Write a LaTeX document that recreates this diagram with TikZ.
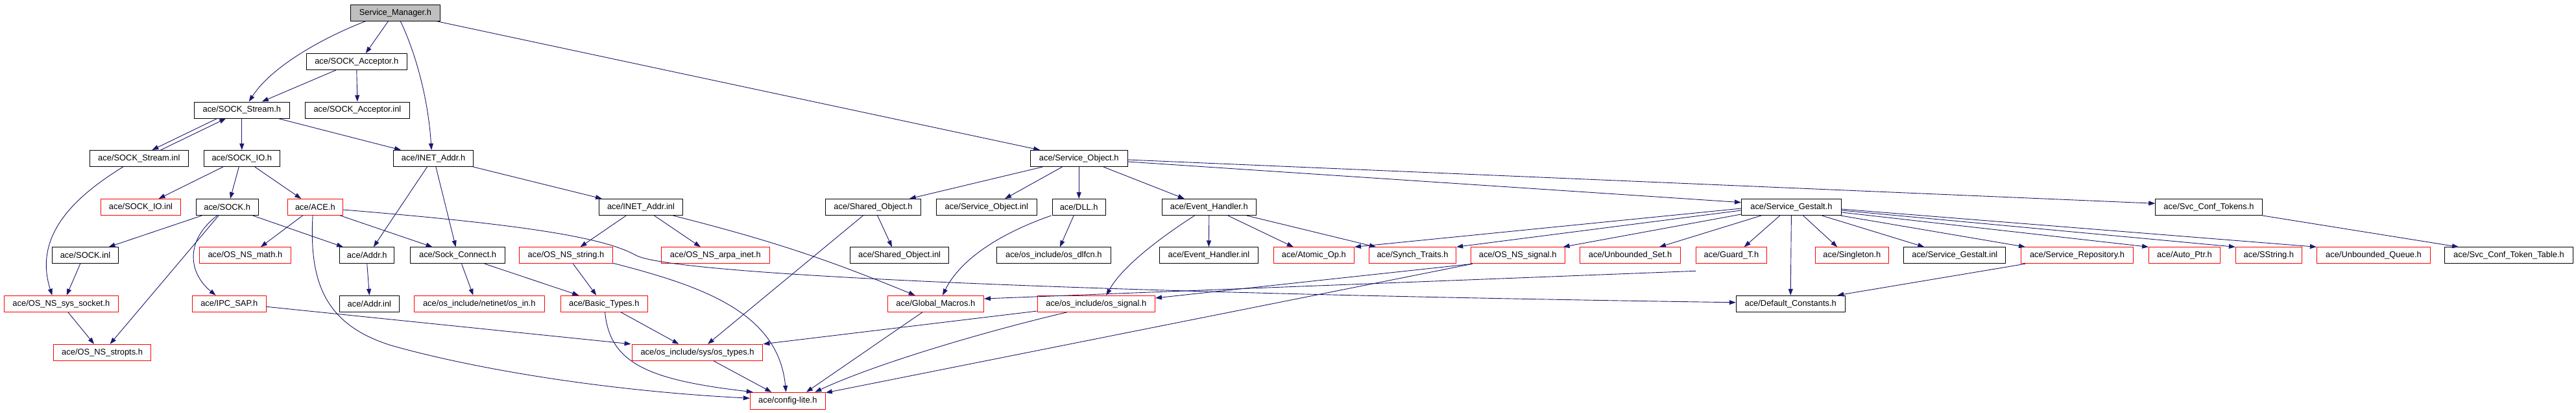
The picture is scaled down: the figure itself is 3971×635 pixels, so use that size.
\documentclass[tikz,border=0pt]{standalone}
\usepackage{fontspec}
\setmainfont{Liberation Sans}
\usetikzlibrary{arrows.meta}
\definecolor{edgeblue}{RGB}{25,25,112}
\definecolor{rootgray}{RGB}{191,191,191}
\begin{document}
\begin{tikzpicture}[x=1pt,y=-1pt,
  box/.style={draw, line width=1pt, minimum height=25pt, inner sep=0pt, font=\fontsize{12.9}{15}\selectfont, text=black, fill=white},
  nb/.style={box, draw=black},
  nr/.style={box, draw=red},
  root/.style={box, draw=black, fill=rootgray},
  dep/.style={draw=edgeblue, line width=0.9pt, -{Triangle[length=10pt,width=7pt]}}]
\useasboundingbox (0,0) rectangle (3971,635);
% row 0
\node[root, minimum width=137.5pt] (sm) at (609.4,19.8) {Service\_Manager.h};
% row 1
\node[nb, minimum width=155pt] (sacc) at (549.8,95) {ace/SOCK\_Acceptor.h};
% row 2
\node[nb, minimum width=146.4pt] (sstr) at (372.8,169.5) {ace/SOCK\_Stream.h};
\node[nb, minimum width=160.8pt] (saccinl) at (550.9,169.5) {ace/SOCK\_Acceptor.inl};
% row 3
\node[nb, minimum width=151.8pt] (sstrinl) at (214.3,244) {ace/SOCK\_Stream.inl};
\node[nb, minimum width=117pt] (sio) at (372.8,244) {ace/SOCK\_IO.h};
\node[nb, minimum width=123.6pt] (inet) at (668.1,244) {ace/INET\_Addr.h};
\node[nb, minimum width=149.6pt] (so) at (1663.2,244) {ace/Service\_Object.h};
% row 4
\node[nr, minimum width=123.2pt] (sioinl) at (217,319) {ace/SOCK\_IO.inl};
\node[nb, minimum width=96pt] (sock) at (350.2,319) {ace/SOCK.h};
\node[nr, minimum width=85.3pt] (ace) at (485.9,319) {ace/ACE.h};
\node[nb, minimum width=128.5pt] (inetinl) at (988,319) {ace/INET\_Addr.inl};
\node[nb, minimum width=147.3pt] (shobj) at (1346,319) {ace/Shared\_Object.h};
\node[nb, minimum width=154.9pt] (soinl) at (1520.8,319) {ace/Service\_Object.inl};
\node[nb, minimum width=81.7pt] (dll) at (1663.2,319) {ace/DLL.h};
\node[nb, minimum width=144.7pt] (eh) at (1863.8,319) {ace/Event\_Handler.h};
\node[nb, minimum width=154pt] (sg) at (2761.4,319) {ace/Service\_Gestalt.h};
\node[nb, minimum width=164.6pt] (sct) at (3405,319) {ace/Svc\_Conf\_Tokens.h};
% row 5
\node[nb, minimum width=102.2pt] (sockinl) at (131.5,393.3) {ace/SOCK.inl};
\node[nr, minimum width=140.6pt] (nsmath) at (377.9,393.3) {ace/OS\_NS\_math.h};
\node[nb, minimum width=84.3pt] (addr) at (565.8,393.3) {ace/Addr.h};
\node[nb, minimum width=146pt] (sconn) at (705.6,393.3) {ace/Sock\_Connect.h};
\node[nr, minimum width=144.2pt] (nsstr) at (872.5,393.3) {ace/OS\_NS\_string.h};
\node[nr, minimum width=166.6pt] (arpa) at (1102.9,393.3) {ace/OS\_NS\_arpa\_inet.h};
\node[nb, minimum width=152.6pt] (shinl) at (1386.6,393.3) {ace/Shared\_Object.inl};
\node[nb, minimum width=175.4pt] (dlfcn) at (1624.3,393.3) {ace/os\_include/os\_dlfcn.h};
\node[nb, minimum width=151.8pt] (ehinl) at (1863.4,393.3) {ace/Event\_Handler.inl};
\node[nr, minimum width=124.1pt] (atomic) at (2025.4,393.3) {ace/Atomic\_Op.h};
\node[nr, minimum width=134.3pt] (synch) at (2177.5,393.3) {ace/Synch\_Traits.h};
\node[nr, minimum width=144.6pt] (nssig) at (2339.7,393.3) {ace/OS\_NS\_signal.h};
\node[nr, minimum width=155.3pt] (uset) at (2513,393.3) {ace/Unbounded\_Set.h};
\node[nr, minimum width=108.5pt] (guard) at (2668.9,393.3) {ace/Guard\_T.h};
\node[nr, minimum width=113.4pt] (single) at (2854.9,393.3) {ace/Singleton.h};
\node[nb, minimum width=157.3pt] (sginl) at (3013.3,393.3) {ace/Service\_Gestalt.inl};
\node[nr, minimum width=173.1pt] (srep) at (3202,393.3) {ace/Service\_Repository.h};
\node[nr, minimum width=109.9pt] (aptr) at (3367.5,393.3) {ace/Auto\_Ptr.h};
\node[nr, minimum width=102.1pt] (sstring) at (3497.4,393.3) {ace/SString.h};
\node[nr, minimum width=175.2pt] (uq) at (3659,393.3) {ace/Unbounded\_Queue.h};
\node[nb, minimum width=197.7pt] (sctt) at (3867.5,393.3) {ace/Svc\_Conf\_Token\_Table.h};
% row 6
\node[nr, minimum width=176.3pt] (nssock) at (94.4,467.8) {ace/OS\_NS\_sys\_socket.h};
\node[nr, minimum width=113.9pt] (ipc) at (353.3,467.8) {ace/IPC\_SAP.h};
\node[nb, minimum width=91.5pt] (addrinl) at (569.4,467.8) {ace/Addr.inl};
\node[nr, minimum width=200.9pt] (osin) at (738.8,467.8) {ace/os\_include/netinet/os\_in.h};
\node[nr, minimum width=133.9pt] (btypes) at (931.3,467.8) {ace/Basic\_Types.h};
\node[nr, minimum width=148.2pt] (gm) at (1442.4,467.8) {ace/Global\_Macros.h};
\node[nr, minimum width=181.3pt] (ossig) at (1689.8,467.8) {ace/os\_include/os\_signal.h};
\node[nb, minimum width=167.9pt] (dc) at (2760.2,467.8) {ace/Default\_Constants.h};
% row 7
\node[nr, minimum width=150pt] (stropts) at (157.6,542.8) {ace/OS\_NS\_stropts.h};
\node[nr, minimum width=201.8pt] (ostypes) at (1075,542.8) {ace/os\_include/sys/os\_types.h};
% row 8
\node[nr, minimum width=116pt, minimum height=26pt] (cfg) at (1214.3,617.3) {ace/config-lite.h};

% edges from Service_Manager.h
\draw[dep] ([xshift=-46pt]sm.south) .. controls (505,55) and (420,100) .. ([xshift=11pt]sstr.north);
\draw[dep] ([xshift=-11pt]sm.south) -- ([xshift=14pt]sacc.north);
\draw[dep] ([xshift=8pt]sm.south) .. controls (640,80) and (660,150) .. ([xshift=-3pt]inet.north);
\draw[dep] ([xshift=64pt]sm.south) -- ([xshift=-60pt]so.north);
% SOCK_Acceptor.h
\draw[dep] ([xshift=-32pt]sacc.south) -- ([xshift=31pt]sstr.north);
\draw[dep] (sacc.south) -- (saccinl.north);
% SOCK_Stream.h
\draw[dep] ([xshift=-38pt]sstr.south) -- ([xshift=20pt]sstrinl.north);
\draw[dep] ([xshift=33.5pt]sstrinl.north) -- ([xshift=-24.6pt]sstr.south);
\draw[dep] (sstr.south) -- (sio.north);
\draw[dep] ([xshift=56pt]sstr.south) -- ([xshift=-50pt]inet.north);
\draw[dep] ([xshift=-24.6pt]sstrinl.south) .. controls (120,300) and (50,360) .. ([xshift=-14pt]nssock.north);
% SOCK_IO.h
\draw[dep] ([xshift=-29pt]sio.south) -- ([xshift=27.6pt]sioinl.north);
\draw[dep] ([xshift=-4.5pt]sio.south) -- ([xshift=4.7pt]sock.north);
\draw[dep] ([xshift=20pt]sio.south) -- ([xshift=-21.6pt]ace.north);
% SOCK.h
\draw[dep] ([xshift=-39pt]sock.south) -- ([xshift=36pt]sockinl.north);
\draw[dep] ([xshift=39.5pt]sock.south) -- ([xshift=-36.8pt]addr.north);
\draw[dep] ([xshift=-15.4pt]sock.south) .. controls (285,370) and (290,420) .. ([xshift=-20.7pt]ipc.north);
\draw[dep] ([xshift=-13.2pt]sock.south) -- ([xshift=12pt]stropts.north);
\draw[dep] ([xshift=-7.8pt]sockinl.south) -- ([xshift=8.3pt]nssock.north);
\draw[dep] ([xshift=10.5pt]nssock.south) -- ([xshift=-12.5pt]stropts.north);
% ACE.h
\draw[dep] ([xshift=-19.4pt]ace.south) -- ([xshift=24pt]nsmath.north);
\draw[dep] ([xshift=38.7pt]ace.south) -- ([xshift=-39pt]sconn.north);
\draw[dep] ([xshift=-3.8pt]ace.south) .. controls (476,440) and (505,500) .. (600,531) .. controls (700,560) and (900,600) .. ([yshift=4pt]cfg.west);
\draw[dep] ([yshift=-4pt]ace.east) .. controls (800,345) and (930,365) .. (980,393) .. controls (1030,421) and (1600,450) .. ([yshift=2pt]dc.west);
% INET_Addr.h
\draw[dep] ([xshift=-9.6pt]inet.south) -- ([xshift=10pt]addr.north);
\draw[dep] ([xshift=3.8pt]inet.south) -- ([xshift=-3pt]sconn.north);
\draw[dep] ([xshift=61.4pt]inet.south) -- ([xshift=-60pt]inetinl.north);
\draw[dep] (addr.south) -- (addrinl.north);
\draw[dep] ([xshift=6pt]sconn.south) -- ([xshift=-9.3pt]osin.north);
\draw[dep] ([xshift=41.7pt]sconn.south) -- ([xshift=-39pt]btypes.north);
% INET_Addr.inl
\draw[dep] ([xshift=-22.8pt]inetinl.south) -- ([xshift=22pt]nsstr.north);
\draw[dep] ([xshift=20.5pt]inetinl.south) -- ([xshift=-23pt]arpa.north);
\draw[dep] ([xshift=49.5pt]inetinl.south) to[bend left=4] ([xshift=-31.7pt]gm.north);
% OS_NS_string.h, Basic_Types.h, os_types.h
\draw[dep] ([xshift=11pt]nsstr.south) -- ([xshift=-12pt]btypes.north);
\draw[dep] ([yshift=1pt]nsstr.south east) .. controls (1080,440) and (1200,480) .. ([xshift=-2.7pt]cfg.north);
\draw[dep] ([xshift=25.8pt]btypes.south) -- ([xshift=-28.6pt]ostypes.north);
\draw[dep] ([xshift=1.3pt]btypes.south) .. controls (940,560) and (1000,585) .. ([xshift=5pt]cfg.north west);
\draw[dep] ([xshift=25pt]ostypes.south) -- ([xshift=-25pt]cfg.north);
\draw[dep] ([yshift=-4.5pt]ipc.east) -- ([xshift=-1pt]ostypes.north west);
% Service_Object.h
\draw[dep] ([xshift=-56pt]so.south) -- ([xshift=55.8pt]shobj.north);
\draw[dep] ([xshift=-25.7pt]so.south) -- ([xshift=28.3pt]soinl.north);
\draw[dep] (so.south) -- (dll.north);
\draw[dep] ([xshift=37.7pt]so.south) -- ([xshift=-38pt]eh.north);
\draw[dep] ([yshift=-5pt]so.east) -- ([yshift=7.3pt]sg.west);
\draw[dep] ([yshift=-2pt]so.east) -- ([yshift=5.7pt]sct.west);
% Shared_Object.h
\draw[dep] ([xshift=6.7pt]shobj.south) -- ([xshift=-11.6pt]shinl.north);
\draw[dep] ([xshift=-15.6pt]shobj.south) -- ([xshift=16pt]ostypes.north);
% DLL.h
\draw[dep] ([xshift=-42.7pt]dll.south) .. controls (1540,360) and (1480,400) .. ([xshift=10.6pt]gm.north);
\draw[dep] ([xshift=-8pt]dll.south) -- ([xshift=9.6pt]dlfcn.north);
% Event_Handler.h
\draw[dep] ([xshift=-22.3pt]eh.south) .. controls (1790,365) and (1730,410) .. ([xshift=15.6pt]ossig.north);
\draw[dep] (eh.south) -- (ehinl.north);
\draw[dep] ([xshift=29pt]eh.south) -- ([xshift=-31.6pt]atomic.north);
\draw[dep] ([xshift=58pt]eh.south) -- ([xshift=-56.5pt]synch.north);
% Service_Gestalt.h
\draw[dep] ([yshift=-2pt]sg.west) -- (atomic.north east);
\draw[dep] ([yshift=-5pt]sg.west) -- (synch.north east);
\draw[dep] ([yshift=-11pt]sg.west) -- ([xshift=-3pt]nssig.north east);
\draw[dep] ([xshift=-46.4pt]sg.south) -- ([xshift=45pt]uset.north);
\draw[dep] ([xshift=-17.7pt]sg.south) -- ([xshift=19.8pt]guard.north);
\draw[dep] (sg.south) -- (dc.north);
\draw[dep] ([xshift=18.2pt]sg.south) -- ([xshift=-22.7pt]single.north);
\draw[dep] ([xshift=47pt]sg.south) -- ([xshift=-47pt]sginl.north);
\draw[dep] ([xshift=-1.5pt]sg.south east) -- ([xshift=-80pt]srep.north);
\draw[dep] ([yshift=-8pt]sg.east) -- (aptr.north west);
\draw[dep] ([yshift=-5pt]sg.east) -- (sstring.north west);
\draw[dep] ([yshift=-3pt]sg.east) -- (uq.north west);
\draw[dep] ([xshift=-80pt]srep.south) -- ([xshift=72pt]dc.north);
\draw[dep] (sct.south east) -- ([xshift=-77.5pt]sctt.north);
% signals, macros
\draw[dep] ([xshift=3pt]nssig.south west) -- ([yshift=-1pt]cfg.north east);
\draw[dep] ([xshift=3pt]nssig.south west) -- ([yshift=8.8pt]ossig.east);
\draw[dep] ([yshift=-11pt]guard.south west) -- ([yshift=7.8pt]gm.east);
\draw[dep] ([xshift=-20.5pt]gm.south) -- ([xshift=28.6pt]cfg.north);
\draw[dep] ([xshift=-45pt]ossig.south) .. controls (1520,510) and (1350,560) .. ([xshift=42pt]cfg.north);
\draw[dep] ([yshift=-11.2pt]ossig.west) -- (ostypes.north east);
\end{tikzpicture}
\end{document}
